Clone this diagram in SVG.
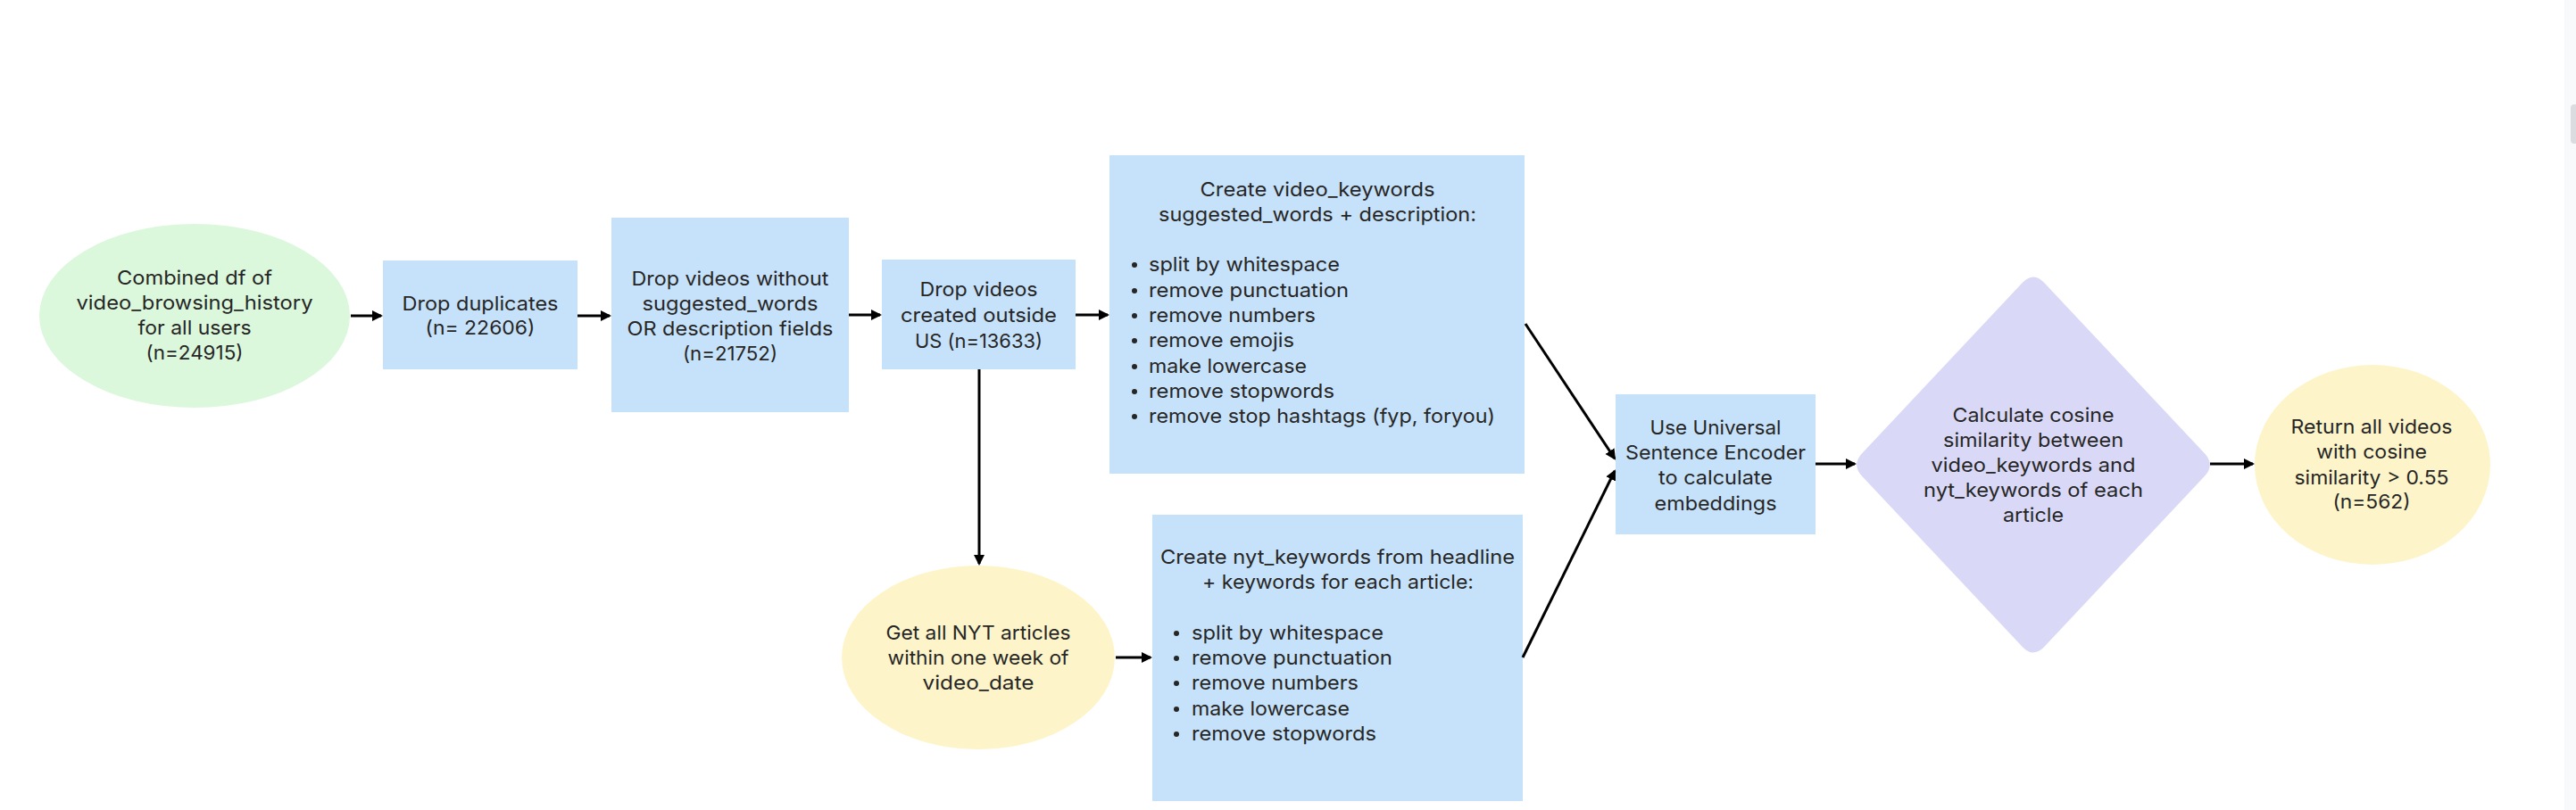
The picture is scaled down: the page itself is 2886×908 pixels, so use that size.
<svg xmlns="http://www.w3.org/2000/svg" width="2886" height="908" viewBox="0 0 2886 908">
<defs>
<style>
text{font-family:Inter,"Open Sans","Liberation Sans",sans-serif;font-size:22px;fill:#262626;}
.c{text-anchor:middle;}
.box{fill:#c6e2fa;}
.green{fill:#dcf8dc;}
.yellow{fill:#fdf5c9;}
.purple{fill:#d9d9f7;}
.edge{stroke:#000;stroke-width:3;fill:none;marker-end:url(#arr);}
.dot{fill:#262626;}
</style>
<marker id="arr" markerUnits="userSpaceOnUse" markerWidth="13" markerHeight="13" refX="10" refY="6" orient="auto">
<path d="M0,0 L12,6 L0,12 z" fill="#000"/>
</marker>
</defs>
<rect x="0" y="0" width="2886" height="908" fill="#ffffff"/>
<rect x="2873" y="0" width="13" height="908" fill="#f8f9fa"/>
<rect x="2880" y="117" width="10" height="44" rx="4" fill="#dadce0"/>

<g id="node-combined">
<ellipse class="green" cx="218" cy="354" rx="174" ry="103"/>
<text class="c" x="218" y="319" textLength="174" lengthAdjust="spacingAndGlyphs">Combined df of</text>
<text class="c" x="218" y="347" textLength="265" lengthAdjust="spacingAndGlyphs">video_browsing_history</text>
<text class="c" x="218" y="375" textLength="127" lengthAdjust="spacingAndGlyphs">for all users</text>
<text class="c" x="218" y="403" textLength="109" lengthAdjust="spacingAndGlyphs">(n=24915)</text>
</g>

<g id="node-dropdup">
<rect class="box" x="429" y="292" width="218" height="122"/>
<text class="c" x="538" y="348" textLength="175" lengthAdjust="spacingAndGlyphs">Drop duplicates</text>
<text class="c" x="538" y="375" textLength="123" lengthAdjust="spacingAndGlyphs">(n= 22606)</text>
</g>

<g id="node-dropnofields">
<rect class="box" x="685" y="244" width="266" height="218"/>
<text class="c" x="818" y="320" textLength="221" lengthAdjust="spacingAndGlyphs">Drop videos without</text>
<text class="c" x="818" y="348" textLength="197" lengthAdjust="spacingAndGlyphs">suggested_words</text>
<text class="c" x="818" y="376" textLength="231" lengthAdjust="spacingAndGlyphs">OR description fields</text>
<text class="c" x="818" y="404" textLength="106" lengthAdjust="spacingAndGlyphs">(n=21752)</text>
</g>

<g id="node-dropoutside">
<rect class="box" x="988" y="291" width="217" height="123"/>
<text class="c" x="1096.5" y="332" textLength="132" lengthAdjust="spacingAndGlyphs">Drop videos</text>
<text class="c" x="1096.5" y="361" textLength="175" lengthAdjust="spacingAndGlyphs">created outside</text>
<text class="c" x="1096.5" y="390" textLength="143" lengthAdjust="spacingAndGlyphs">US (n=13633)</text>
</g>

<g id="node-videokeywords">
<rect class="box" x="1243" y="174" width="465" height="357"/>
<text class="c" x="1476" y="220" textLength="263" lengthAdjust="spacingAndGlyphs">Create video_keywords</text>
<text class="c" x="1476" y="248" textLength="356" lengthAdjust="spacingAndGlyphs">suggested_words + description:</text>
<circle class="dot" cx="1271" cy="297" r="3"/>
<circle class="dot" cx="1271" cy="326" r="3"/>
<circle class="dot" cx="1271" cy="354" r="3"/>
<circle class="dot" cx="1271" cy="382" r="3"/>
<circle class="dot" cx="1271" cy="411" r="3"/>
<circle class="dot" cx="1271" cy="439" r="3"/>
<circle class="dot" cx="1271" cy="467" r="3"/>
<text x="1287" y="304" textLength="214" lengthAdjust="spacingAndGlyphs">split by whitespace</text>
<text x="1287" y="333" textLength="224" lengthAdjust="spacingAndGlyphs">remove punctuation</text>
<text x="1287" y="361" textLength="187" lengthAdjust="spacingAndGlyphs">remove numbers</text>
<text x="1287" y="389" textLength="163" lengthAdjust="spacingAndGlyphs">remove emojis</text>
<text x="1287" y="418" textLength="177" lengthAdjust="spacingAndGlyphs">make lowercase</text>
<text x="1287" y="446" textLength="208" lengthAdjust="spacingAndGlyphs">remove stopwords</text>
<text x="1287" y="474" textLength="388" lengthAdjust="spacingAndGlyphs">remove stop hashtags (fyp, foryou)</text>
</g>

<g id="node-nyt">
<ellipse class="yellow" cx="1096" cy="737" rx="153" ry="103"/>
<text class="c" x="1096" y="717" textLength="207" lengthAdjust="spacingAndGlyphs">Get all NYT articles</text>
<text class="c" x="1096" y="745" textLength="203" lengthAdjust="spacingAndGlyphs">within one week of</text>
<text class="c" x="1096" y="773" textLength="125" lengthAdjust="spacingAndGlyphs">video_date</text>
</g>

<g id="node-nytkeywords">
<rect class="box" x="1291" y="577" width="415" height="321"/>
<text class="c" x="1498.5" y="632" textLength="397" lengthAdjust="spacingAndGlyphs">Create nyt_keywords from headline</text>
<text class="c" x="1499" y="660" textLength="304" lengthAdjust="spacingAndGlyphs">+ keywords for each article:</text>
<circle class="dot" cx="1318" cy="710" r="3"/>
<circle class="dot" cx="1318" cy="738" r="3"/>
<circle class="dot" cx="1318" cy="766" r="3"/>
<circle class="dot" cx="1318" cy="795" r="3"/>
<circle class="dot" cx="1318" cy="823" r="3"/>
<text x="1335" y="717" textLength="215" lengthAdjust="spacingAndGlyphs">split by whitespace</text>
<text x="1335" y="745" textLength="225" lengthAdjust="spacingAndGlyphs">remove punctuation</text>
<text x="1335" y="773" textLength="187" lengthAdjust="spacingAndGlyphs">remove numbers</text>
<text x="1335" y="802" textLength="177" lengthAdjust="spacingAndGlyphs">make lowercase</text>
<text x="1335" y="830" textLength="207" lengthAdjust="spacingAndGlyphs">remove stopwords</text>
</g>

<g id="node-encoder">
<rect class="box" x="1810" y="442" width="224" height="157"/>
<text class="c" x="1922" y="487" textLength="147" lengthAdjust="spacingAndGlyphs">Use Universal</text>
<text class="c" x="1922" y="515" textLength="202" lengthAdjust="spacingAndGlyphs">Sentence Encoder</text>
<text class="c" x="1922" y="543" textLength="128" lengthAdjust="spacingAndGlyphs">to calculate</text>
<text class="c" x="1922" y="572" textLength="137" lengthAdjust="spacingAndGlyphs">embeddings</text>
</g>

<g id="node-cosine">
<path class="purple" d="M2086.3,507.9 L2265.7,317.1 Q2278,304 2290.3,317.1 L2469.7,507.9 Q2482,521 2469.7,534.1 L2290.3,724.9 Q2278,738 2265.7,724.9 L2086.3,534.1 Q2074,521 2086.3,507.9 Z"/>
<text class="c" x="2278" y="473" textLength="181" lengthAdjust="spacingAndGlyphs">Calculate cosine</text>
<text class="c" x="2278" y="501" textLength="202" lengthAdjust="spacingAndGlyphs">similarity between</text>
<text class="c" x="2278" y="529" textLength="229" lengthAdjust="spacingAndGlyphs">video_keywords and</text>
<text class="c" x="2278" y="557" textLength="246" lengthAdjust="spacingAndGlyphs">nyt_keywords of each</text>
<text class="c" x="2278" y="585" textLength="68" lengthAdjust="spacingAndGlyphs">article</text>
</g>

<g id="node-return">
<ellipse class="yellow" cx="2658" cy="521" rx="132" ry="112"/>
<text class="c" x="2657" y="486" textLength="181" lengthAdjust="spacingAndGlyphs">Return all videos</text>
<text class="c" x="2657" y="514" textLength="124" lengthAdjust="spacingAndGlyphs">with cosine</text>
<text class="c" x="2657" y="543" textLength="173" lengthAdjust="spacingAndGlyphs">similarity &gt; 0.55</text>
<text class="c" x="2657" y="570" textLength="87" lengthAdjust="spacingAndGlyphs">(n=562)</text>
</g>

<g id="connectors">
<line class="edge" x1="393" y1="354" x2="427" y2="354"/>
<line class="edge" x1="647" y1="354" x2="683" y2="354"/>
<line class="edge" x1="951" y1="353" x2="986" y2="353"/>
<line class="edge" x1="1205" y1="353" x2="1241" y2="353"/>
<line class="edge" x1="1097" y1="414" x2="1097" y2="632"/>
<line class="edge" x1="1250" y1="737" x2="1289" y2="737"/>
<line class="edge" x1="1709" y1="363" x2="1809" y2="514"/>
<line class="edge" x1="1706" y1="737" x2="1809" y2="528"/>
<line class="edge" x1="2034" y1="520" x2="2078" y2="520"/>
<line class="edge" x1="2476" y1="520" x2="2524" y2="520"/>
</g>
</svg>
